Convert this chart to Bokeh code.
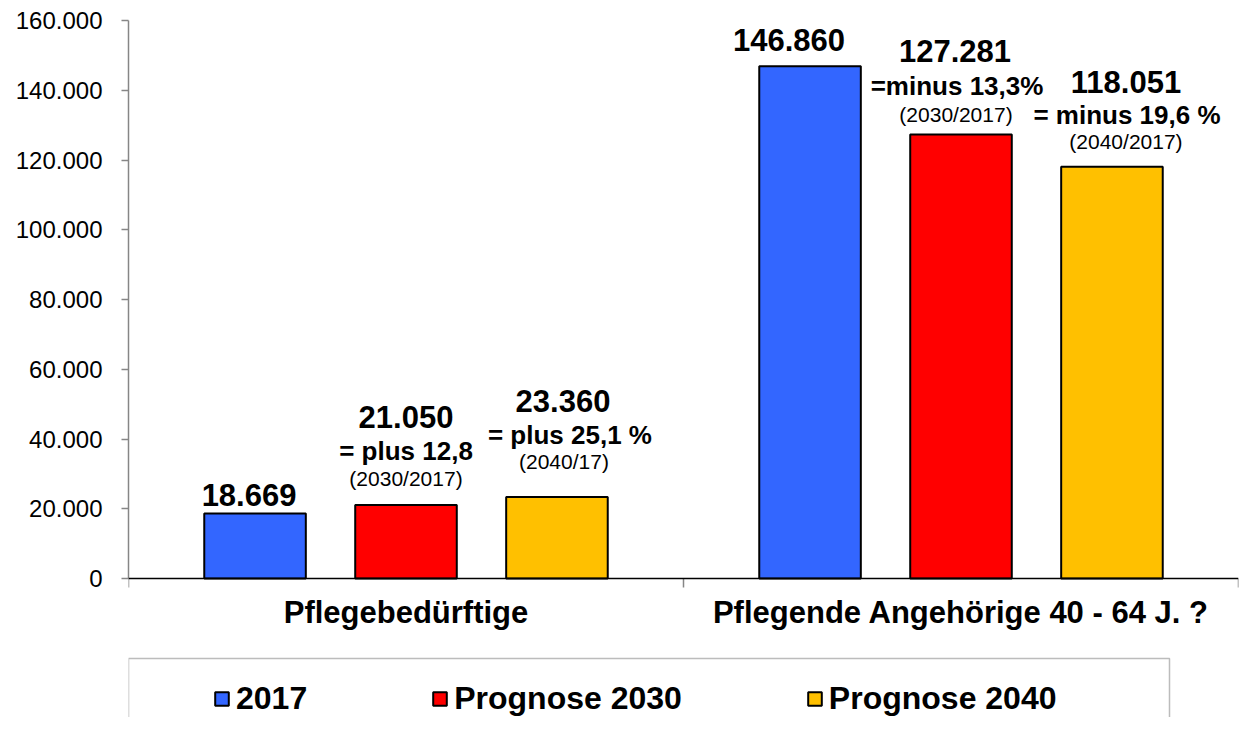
from bokeh.plotting import figure
from bokeh.models import (ColumnDataSource, Range1d, FixedTicker, Legend, LegendItem, Span,
                          BoxAnnotation)
from bokeh.core.properties import value
from bokeh.embed import file_html
from bokeh.resources import INLINE

# ---------------- data ----------------
categories = ["Pflegebedürftige", "Pflegende Angehörige 40 - 64 J. ?"]
series = ["2017", "Prognose 2030", "Prognose 2040"]
values_2017 = [18669, 146860]
values_2030 = [21050, 127281]
values_2040 = [23360, 118051]
change_2030 = ["= plus 12,8", "=minus 13,3%"]
change_2040 = ["= plus 25,1 %", "= minus 19,6 %"]
period_2030 = ["(2030/2017)", "(2030/2017)"]
period_2040 = ["(2040/17)", "(2040/2017)"]
y_ticks = [0, 20000, 40000, 60000, 80000, 100000, 120000, 140000, 160000]
y_max = 160000

# ---------------- style / layout ----------------
colors = ["#3366FF", "#FF0000", "#FFC000"]
FONT = "Liberation Sans"
W, H = 1240, 717
TOP, LEFT, RIGHT = 20, 128, 2
AXIS_PX = 558            # pixel height from value 0 to y_max
LEGEND_BOX_RIGHT_PX = 1169
LEGEND_BOX_TOP_PX = 658
series_offset = [-0.272, 0.0, 0.272]
bar_width = 0.183
num_dx = [[-6, -21], [0, -6], [6, 14]]
num_dy = [[-18, -26], [-88, -84], [-96, -85]]
sub_dx = {1: [0, -4], 2: [13, 15]}
sub_dy = {1: [-54, -49], 2: [-62, -52]}
par_dx = {1: [0, -5], 2: [7, 14]}
par_dy = {1: [-27, -20], 2: [-36, -25]}


def de(n):
    return f"{n:,}".replace(",", ".")


all_values = [values_2017, values_2030, values_2040]
changes = {1: change_2030, 2: change_2040}
periods = {1: period_2030, 2: period_2040}

units_per_px = y_max / AXIS_PX
below_px = H - TOP - AXIS_PX
y_min = -below_px * units_per_px
x_units_per_px = len(categories) / (W - LEFT - RIGHT)

p = figure(width=W, height=H, x_range=Range1d(0, len(categories)), y_range=Range1d(y_min, y_max),
           output_backend="svg", toolbar_location=None,
           min_border_left=LEFT, min_border_right=RIGHT, min_border_top=TOP, min_border_bottom=0)
p.grid.visible = False
p.outline_line_color = None
p.background_fill_color = "white"
p.border_fill_color = "white"
p.xaxis.visible = False

# legend frame
p.add_layout(BoxAnnotation(
    left=0, right=(LEGEND_BOX_RIGHT_PX - LEFT) * x_units_per_px,
    top=-(LEGEND_BOX_TOP_PX - TOP - AXIS_PX) * units_per_px,
    bottom=y_min - 20 * units_per_px,
    fill_color="white", fill_alpha=1, line_color="#222222", line_width=1.5))

renderers = []
for j, s in enumerate(series):
    src = ColumnDataSource(dict(
        x=[i + 0.5 + series_offset[j] for i in range(len(categories))],
        top=all_values[j]))
    r = p.vbar(x="x", top="top", bottom=0, width=bar_width, source=src,
               fill_color=colors[j], line_color="black", line_width=2)
    renderers.append(r)

# category axis (line at value 0, boundary ticks, labels)
p.add_layout(Span(location=0, dimension="width", line_color="black", line_width=1.5))
bounds = [float(i) for i in range(len(categories) + 1)]
tick_len = 9 * units_per_px
p.segment(x0=bounds, y0=[0] * len(bounds), x1=bounds, y1=[-tick_len] * len(bounds),
          line_color="#868686", line_width=1.5)
centers = [i + 0.5 for i in range(len(categories))]
p.text(x=centers, y=[0] * len(centers), text=categories, y_offset=34,
       text_font=value(FONT), text_font_style="bold", text_font_size="31px",
       text_align="center", text_baseline="middle", text_color="black")

# value labels
num = dict(x=[], y=[], text=[], dx=[], dy=[])
sub = dict(x=[], y=[], text=[], dx=[], dy=[])
par = dict(x=[], y=[], text=[], dx=[], dy=[])
for j in range(len(series)):
    for i in range(len(categories)):
        xv = i + 0.5 + series_offset[j]
        yv = all_values[j][i]
        num["x"].append(xv); num["y"].append(yv); num["text"].append(de(yv))
        num["dx"].append(num_dx[j][i]); num["dy"].append(num_dy[j][i])
        if j in changes:
            sub["x"].append(xv); sub["y"].append(yv); sub["text"].append(changes[j][i])
            sub["dx"].append(sub_dx[j][i]); sub["dy"].append(sub_dy[j][i])
            par["x"].append(xv); par["y"].append(yv); par["text"].append(periods[j][i])
            par["dx"].append(par_dx[j][i]); par["dy"].append(par_dy[j][i])

p.text(x="x", y="y", text="text", x_offset="dx", y_offset="dy", source=ColumnDataSource(num),
       text_font=value(FONT), text_font_style="bold", text_font_size="31px",
       text_align="center", text_baseline="middle", text_color="black")
p.text(x="x", y="y", text="text", x_offset="dx", y_offset="dy", source=ColumnDataSource(sub),
       text_font=value(FONT), text_font_style="bold", text_font_size="26px",
       text_align="center", text_baseline="middle", text_color="black")
p.text(x="x", y="y", text="text", x_offset="dx", y_offset="dy", source=ColumnDataSource(par),
       text_font=value(FONT), text_font_style="normal", text_font_size="21px",
       text_align="center", text_baseline="middle", text_color="black")

# y axis
ya = p.yaxis[0]
ya.bounds = (0, y_max)
ya.ticker = FixedTicker(ticks=y_ticks, minor_ticks=[])
ya.major_label_overrides = {t: de(t) for t in y_ticks}
ya.axis_line_color = "#868686"
ya.axis_line_width = 1.5
ya.major_tick_line_color = "#868686"
ya.major_tick_line_width = 1.5
ya.major_tick_out = 7
ya.major_tick_in = 0
ya.minor_tick_line_color = None
ya.major_label_text_font = FONT
ya.major_label_text_font_size = "24px"
ya.major_label_text_color = "black"
ya.major_label_standoff = 19

# legend entries (inside the legend frame)
leg = Legend(items=[LegendItem(label=s, renderers=[renderers[j]]) for j, s in enumerate(series)],
             location=(85, 0), orientation="horizontal", padding=0, margin=0, spacing=124,
             glyph_width=17, glyph_height=17, label_standoff=6,
             label_text_font=FONT, label_text_font_style="bold", label_text_font_size="32px",
             label_text_color="black", border_line_color=None,
             background_fill_alpha=0)
p.add_layout(leg, "center")

open("out.html", "w").write(file_html(p, INLINE))
